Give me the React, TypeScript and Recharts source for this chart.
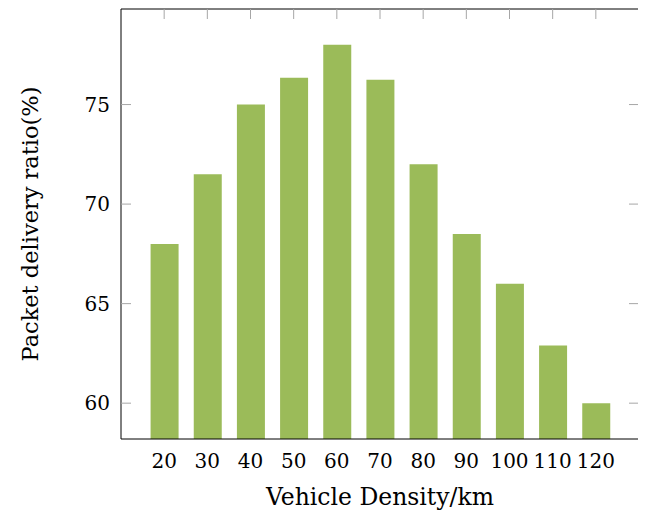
import React from "react";
import { BarChart, Bar, XAxis, YAxis } from "recharts";

const densities = [20, 30, 40, 50, 60, 70, 80, 90, 100, 110, 120];
const pdr = [68, 71.5, 75, 76.35, 78, 76.25, 72, 68.5, 66, 62.9, 60];
const yTicks = [60, 65, 70, 75];
const xTicks = densities;

const data = densities.map((d, i) => ({ density: d, pdr: pdr[i] }));

const FONT = "DejaVu Serif";
const TICK_COLOR = "#a6a6a6";

const LeftTick = (props: any) => {
  const { x, y, payload } = props;
  return (
    <g>
      <line x1={x + 11} x2={x + 21} y1={y} y2={y} stroke={TICK_COLOR} strokeWidth={1} />
      <text x={x} y={y} textAnchor="end" dominantBaseline="central" fontFamily={FONT} fontSize={20} fill="#000">
        {payload.value}
      </text>
    </g>
  );
};

const RightTick = (props: any) => {
  const { x, y } = props;
  return <line x1={x - 10} x2={x} y1={y} y2={y} stroke={TICK_COLOR} strokeWidth={1} />;
};

const TopTick = (props: any) => {
  const { x, y } = props;
  return <line x1={x} x2={x} y1={y} y2={y + 10} stroke={TICK_COLOR} strokeWidth={1} />;
};

const BottomTick = (props: any) => {
  const { x, y, payload } = props;
  return (
    <text x={x} y={y} textAnchor="middle" dominantBaseline="hanging" fontFamily={FONT} fontSize={20} fill="#000">
      {payload.value}
    </text>
  );
};

const YLabel = (props: any) => {
  const vb = props.viewBox || {};
  const cx = vb.x + 22;
  const cy = vb.y + vb.height / 2;
  return (
    <text x={cx} y={cy} transform={`rotate(-90, ${cx}, ${cy})`} textAnchor="middle" dominantBaseline="central" fontFamily={FONT} fontSize={22.5} fill="#000">
      Packet delivery ratio(%)
    </text>
  );
};

const XLabel = (props: any) => {
  const vb = props.viewBox || {};
  const cx = vb.x + vb.width / 2;
  const cy = vb.y + 58;
  return (
    <text x={cx} y={cy} textAnchor="middle" dominantBaseline="central" fontFamily={FONT} fontSize={23.5} fill="#000">
      Vehicle Density/km
    </text>
  );
};

export default function App() {
  return (
    <BarChart width={638} height={506} data={data} margin={{ top: 0, right: 6, bottom: 0, left: 0 }}>
      <XAxis
        dataKey="density"
        type="number"
        domain={[10, 130]}
        ticks={xTicks}
        allowDataOverflow
        height={75}
        tickSize={0}
        tickMargin={14}
        tickLine={false}
        axisLine={{ stroke: "#000", strokeWidth: 1 }}
        tick={<BottomTick />}
        interval={0}
        label={<XLabel />}
      />
      <XAxis
        xAxisId="top"
        orientation="top"
        dataKey="density"
        type="number"
        domain={[10, 130]}
        ticks={xTicks}
        allowDataOverflow
        height={1}
        tickSize={0}
        tickMargin={0}
        tickLine={false}
        axisLine={{ stroke: "#000", strokeWidth: 1 }}
        tick={<TopTick />}
        interval={0}
      />
      <YAxis
        domain={[58.2, 79.8]}
        ticks={yTicks}
        allowDataOverflow
        width={113}
        tickSize={0}
        tickMargin={11}
        tickLine={false}
        axisLine={{ stroke: "#000", strokeWidth: 1 }}
        tick={<LeftTick />}
        interval={0}
        label={<YLabel />}
      />
      <YAxis
        yAxisId="right"
        orientation="right"
        domain={[58.2, 79.8]}
        ticks={yTicks}
        allowDataOverflow
        width={1}
        tickSize={0}
        tickMargin={0}
        tickLine={false}
        axisLine={{ stroke: "#000", strokeWidth: 1 }}
        tick={<RightTick />}
        interval={0}
      />
      <Bar dataKey="pdr" fill="#9bbb59" barSize={28} isAnimationActive={false} />
    </BarChart>
  );
}
